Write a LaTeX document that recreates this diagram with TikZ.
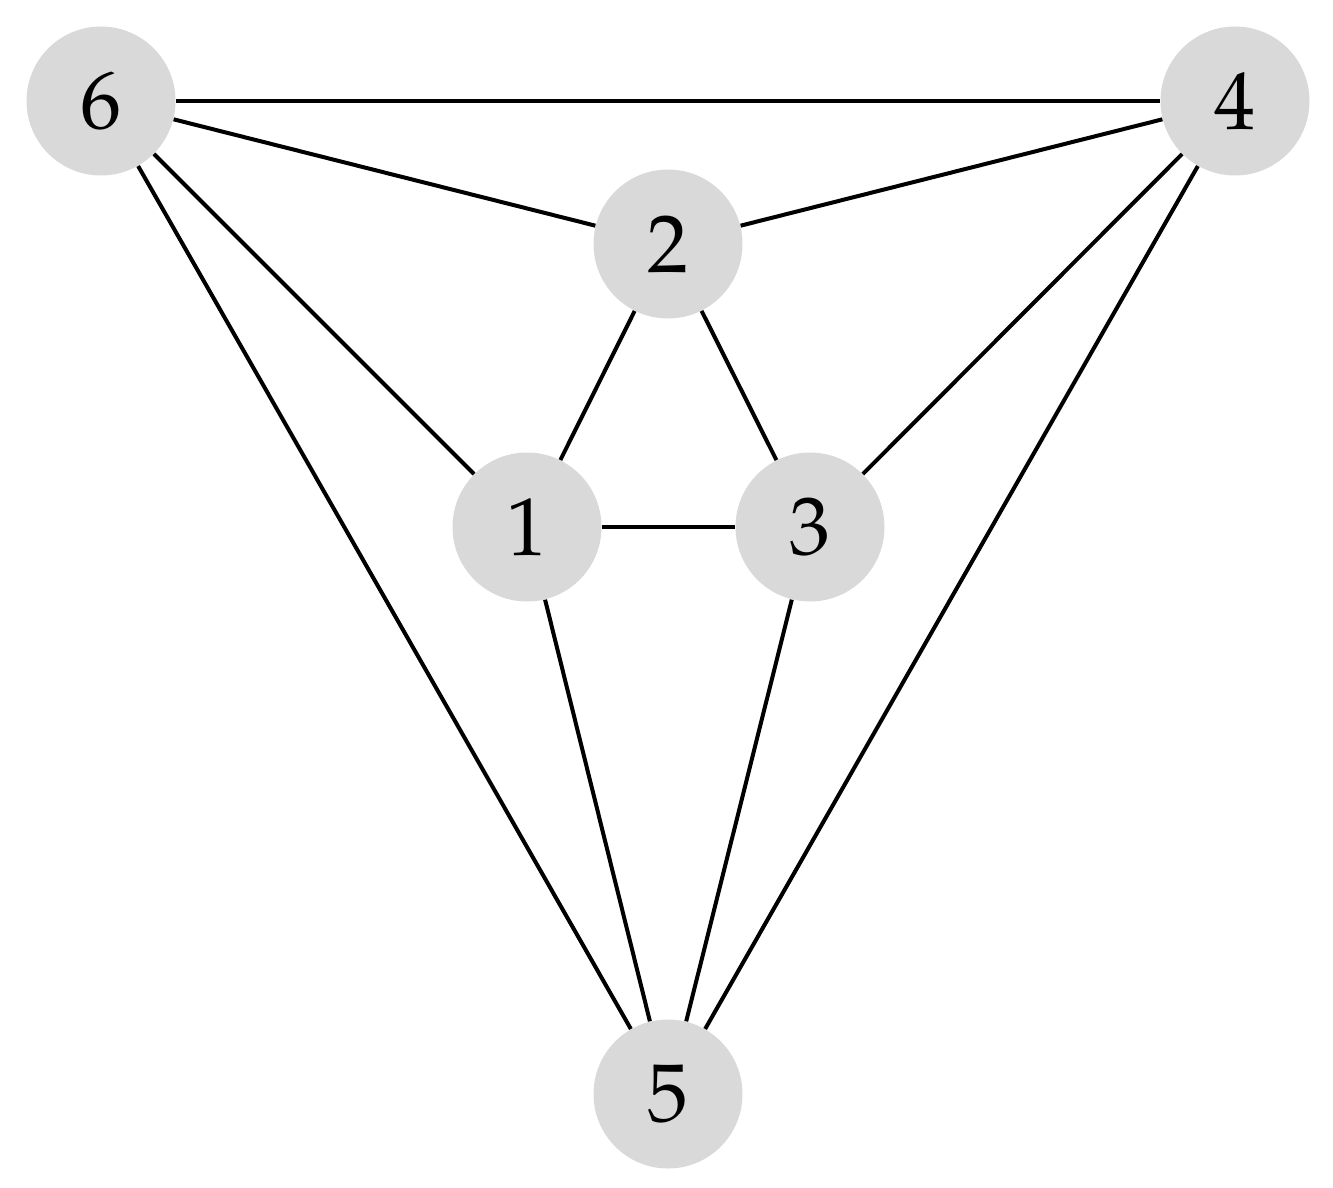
\documentclass[tikz,border=0pt]{standalone}
\usepackage[T1]{fontenc}
\usepackage{mathpazo}
\begin{document}
\begin{tikzpicture}[x=0.5pt,y=-0.5pt,
  vert/.style={circle,fill=black!15,minimum size=74.5pt,inner sep=0pt,font=\fontsize{41}{45}\selectfont},
  edge/.style={line width=2pt,black}]
\useasboundingbox (0,0) rectangle (1333,1188);
\node[vert] (n6) at (101,101) {6};
\node[vert] (n4) at (1235,101) {4};
\node[vert] (n2) at (668,244) {2};
\node[vert] (n1) at (527,527) {1};
\node[vert] (n3) at (810,527) {3};
\node[vert] (n5) at (668,1094) {5};
\draw[edge] (n6) -- (n4);
\draw[edge] (n6) -- (n2);
\draw[edge] (n6) -- (n1);
\draw[edge] (n6) -- (n5);
\draw[edge] (n4) -- (n2);
\draw[edge] (n4) -- (n3);
\draw[edge] (n4) -- (n5);
\draw[edge] (n2) -- (n1);
\draw[edge] (n2) -- (n3);
\draw[edge] (n1) -- (n3);
\draw[edge] (n1) -- (n5);
\draw[edge] (n3) -- (n5);
\end{tikzpicture}
\end{document}
